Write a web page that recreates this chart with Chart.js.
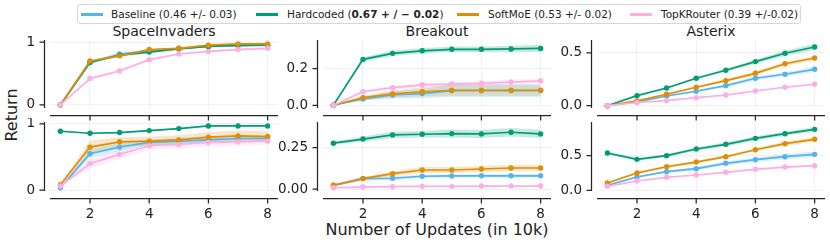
<!DOCTYPE html>
<html><head><meta charset="utf-8">
<script src="https://cdn.jsdelivr.net/npm/chart.js@4.4.1/dist/chart.umd.min.js"></script>
<style>
body{margin:0;background:#fff;font-family:"DejaVu Sans",sans-serif;color:#222;}
#wrap{position:relative;width:830px;height:244px;overflow:hidden;background:#fff;}
canvas{position:absolute;}
.t{position:absolute;white-space:nowrap;line-height:1;}
.c{transform:translate(-50%,-50%);}
#legend{position:absolute;left:77px;top:4px;width:722px;height:18px;border:1px solid #d6d6d6;border-radius:3px;}
.sw{position:absolute;height:3px;width:22px;top:8px;}
.lt{position:absolute;top:3px;font-size:10.5px;white-space:nowrap;line-height:12px;}
</style></head>
<body><div id="wrap">
<div id="legend">
  <div class="sw" style="left:3px;background:#56B4E9"></div><div class="lt" style="left:33px">Baseline (0.46 +/- 0.03)</div>
  <div class="sw" style="left:178px;background:#029E73"></div><div class="lt" style="left:209px">Hardcoded (<b>0.67 + / − 0.02</b>)</div>
  <div class="sw" style="left:379px;background:#DE8F05"></div><div class="lt" style="left:410px">SoftMoE (0.53 +/- 0.02)</div>
  <div class="sw" style="left:552px;background:#FBAFE4"></div><div class="lt" style="left:583px">TopKRouter (0.39 +/-0.02)</div>
</div>
<div class="t c" style="left:164px;top:31px;font-size:14px">SpaceInvaders</div>
<div class="t c" style="left:437px;top:31px;font-size:14px">Breakout</div>
<div class="t c" style="left:711px;top:31px;font-size:14px">Asterix</div>
<div class="t" style="left:12px;top:115px;font-size:16px;transform:translate(-50%,-50%) rotate(-90deg)">Return</div>
<div class="t c" style="left:437px;top:230px;font-size:16px">Number of Updates (in 10k)</div>
</div>
<script>
const xs = [1, 2, 3, 4, 5, 6, 7, 8];
const xTicks = [2, 4, 6, 8];
const seriesNames = ['Baseline', 'Hardcoded', 'SoftMoE', 'TopKRouter'];
const seriesColors = ['#56B4E9', '#029E73', '#DE8F05', '#FBAFE4'];

// SpaceInvaders, top row
const siTopBaseline   = [0, 0.67, 0.81, 0.86, 0.90, 0.93, 0.94, 0.95];
const siTopHardcoded  = [0, 0.68, 0.79, 0.84, 0.89, 0.93, 0.95, 0.95];
const siTopSoftMoE    = [0, 0.70, 0.78, 0.88, 0.90, 0.95, 0.97, 0.97];
const siTopTopK       = [0, 0.42, 0.54, 0.72, 0.81, 0.85, 0.88, 0.90];
const siTopBaselineSd  = [0, 0.03, 0.02, 0.02, 0.01, 0.01, 0.01, 0.01];
const siTopHardcodedSd = [0, 0.02, 0.02, 0.02, 0.01, 0.01, 0.01, 0.01];
const siTopSoftMoESd   = [0, 0.02, 0.02, 0.01, 0.01, 0.01, 0.01, 0.01];
const siTopTopKSd      = [0, 0.02, 0.03, 0.02, 0.02, 0.02, 0.02, 0.02];

// SpaceInvaders, bottom row
const siBotBaseline   = [0.035, 0.55, 0.65, 0.72, 0.74, 0.76, 0.78, 0.78];
const siBotHardcoded  = [0.89, 0.86, 0.87, 0.90, 0.93, 0.97, 0.97, 0.97];
const siBotSoftMoE    = [0.08, 0.65, 0.73, 0.74, 0.76, 0.80, 0.82, 0.81];
const siBotTopK       = [0.06, 0.40, 0.54, 0.67, 0.69, 0.72, 0.73, 0.74];
const siBotBaselineSd  = [0.01, 0.07, 0.06, 0.05, 0.05, 0.05, 0.05, 0.05];
const siBotHardcodedSd = [0.01, 0.01, 0.01, 0.01, 0.01, 0.01, 0.01, 0.01];
const siBotSoftMoESd   = [0.01, 0.10, 0.07, 0.07, 0.07, 0.08, 0.08, 0.08];
const siBotTopKSd      = [0.01, 0.07, 0.07, 0.06, 0.06, 0.06, 0.06, 0.06];

// Breakout, top row
const brTopBaseline   = [0, 0.034, 0.056, 0.064, 0.080, 0.080, 0.080, 0.080];
const brTopHardcoded  = [0, 0.251, 0.284, 0.298, 0.306, 0.306, 0.308, 0.311];
const brTopSoftMoE    = [0, 0.042, 0.062, 0.074, 0.082, 0.082, 0.082, 0.082];
const brTopTopK       = [0, 0.074, 0.096, 0.111, 0.116, 0.120, 0.127, 0.133];
const brTopBaselineSd  = [0, 0.010, 0.020, 0.025, 0.035, 0.035, 0.035, 0.035];
const brTopHardcodedSd = [0, 0.012, 0.015, 0.015, 0.015, 0.016, 0.018, 0.020];
const brTopSoftMoESd   = [0, 0.010, 0.020, 0.025, 0.030, 0.030, 0.030, 0.030];
const brTopTopKSd      = [0, 0.008, 0.010, 0.012, 0.012, 0.012, 0.012, 0.012];

// Breakout, bottom row
const brBotBaseline   = [0.020, 0.063, 0.065, 0.077, 0.079, 0.080, 0.080, 0.080];
const brBotHardcoded  = [0.277, 0.302, 0.327, 0.331, 0.335, 0.333, 0.343, 0.333];
const brBotSoftMoE    = [0.024, 0.063, 0.093, 0.115, 0.115, 0.121, 0.127, 0.127];
const brBotTopK       = [0.008, 0.012, 0.014, 0.016, 0.016, 0.018, 0.018, 0.018];
const brBotBaselineSd  = [0.005, 0.015, 0.012, 0.010, 0.010, 0.010, 0.010, 0.010];
const brBotHardcodedSd = [0.010, 0.015, 0.020, 0.020, 0.025, 0.025, 0.025, 0.025];
const brBotSoftMoESd   = [0.005, 0.010, 0.015, 0.018, 0.018, 0.020, 0.020, 0.020];
const brBotTopKSd      = [0.002, 0.002, 0.002, 0.002, 0.002, 0.002, 0.002, 0.002];

// Asterix, top row
const asTopBaseline   = [0, 0.035, 0.092, 0.137, 0.190, 0.260, 0.298, 0.345];
const asTopHardcoded  = [0, 0.095, 0.168, 0.260, 0.336, 0.418, 0.497, 0.557];
const asTopSoftMoE    = [0, 0.045, 0.108, 0.175, 0.237, 0.307, 0.398, 0.452];
const asTopTopK       = [0, 0.030, 0.048, 0.076, 0.101, 0.139, 0.175, 0.203];
const asTopBaselineSd  = [0, 0.005, 0.010, 0.010, 0.015, 0.020, 0.020, 0.025];
const asTopHardcodedSd = [0, 0.005, 0.010, 0.010, 0.015, 0.020, 0.025, 0.030];
const asTopSoftMoESd   = [0, 0.005, 0.010, 0.010, 0.015, 0.020, 0.020, 0.020];
const asTopTopKSd      = [0, 0.003, 0.005, 0.005, 0.005, 0.008, 0.008, 0.010];

// Asterix, bottom row
const asBotBaseline   = [0.072, 0.192, 0.269, 0.312, 0.390, 0.442, 0.485, 0.519];
const asBotHardcoded  = [0.538, 0.447, 0.500, 0.596, 0.664, 0.750, 0.817, 0.880];
const asBotSoftMoE    = [0.105, 0.250, 0.340, 0.408, 0.485, 0.586, 0.673, 0.736];
const asBotTopK       = [0.058, 0.134, 0.188, 0.221, 0.260, 0.303, 0.336, 0.355];
const asBotBaselineSd  = [0.010, 0.015, 0.020, 0.025, 0.030, 0.030, 0.040, 0.040];
const asBotHardcodedSd = [0.020, 0.020, 0.020, 0.025, 0.030, 0.030, 0.030, 0.035];
const asBotSoftMoESd   = [0.010, 0.020, 0.020, 0.020, 0.020, 0.020, 0.030, 0.030];
const asBotTopKSd      = [0.005, 0.010, 0.010, 0.010, 0.010, 0.010, 0.010, 0.010];

// y-axis ticks per panel
const siTopYTicks = [0, 1];        const siTopYLabels = ['0', '1'];
const siBotYTicks = [0, 1];        const siBotYLabels = ['0', '1'];
const brTopYTicks = [0, 0.2];      const brTopYLabels = ['0.0', '0.2'];
const brBotYTicks = [0, 0.25];     const brBotYLabels = ['0.00', '0.25'];
const asTopYTicks = [0, 0.5];      const asTopYLabels = ['0.0', '0.5'];
const asBotYTicks = [0, 0.5];      const asBotYLabels = ['0.0', '0.5'];

const FONT = 'DejaVu Sans';
const TXT = '#222';
const SPINE = '#262626';
const GRID = '#ececec';

function hexA(h, a) {
  const n = parseInt(h.slice(1), 16);
  return `rgba(${(n >> 16) & 255},${(n >> 8) & 255},${n & 255},${a})`;
}

const spinePlugin = {
  id: 'spines',
  afterDraw(chart) {
    const {ctx, chartArea: a, scales: {x, y}} = chart;
    ctx.save();
    ctx.strokeStyle = SPINE;
    ctx.lineWidth = 1.25;
    ctx.beginPath();
    const sx = Math.round(a.left - 6.5) + 0.5;
    ctx.moveTo(sx, a.top); ctx.lineTo(sx, a.bottom);
    y.ticks.forEach(t => { const py = y.getPixelForValue(t.value); ctx.moveTo(sx - 5, py); ctx.lineTo(sx, py); });
    const sy = Math.round(a.bottom + 7) + 0.5;
    ctx.moveTo(a.left, sy); ctx.lineTo(a.right, sy);
    x.ticks.forEach(t => { const px = x.getPixelForValue(t.value); ctx.moveTo(px, sy); ctx.lineTo(px, sy + 5); });
    ctx.stroke();
    ctx.restore();
  }
};

function zeroPad(s) { s.paddingTop = 0; s.paddingBottom = 0; s.paddingLeft = 0; s.paddingRight = 0; }

const YW = 50, PADT = 4, PADR = 3;
function panel(left, top, w, h, showX, yMin, yMax, yTicks, yLabels, means, sds) {
  const hx = showX ? 30 : 14;
  const cv = document.createElement('canvas');
  const cw = YW + w + PADR, ch = PADT + h + hx;
  cv.width = cw; cv.height = ch;
  cv.style.left = (left - YW) + 'px'; cv.style.top = (top - PADT) + 'px';
  cv.style.width = cw + 'px'; cv.style.height = ch + 'px';
  document.getElementById('wrap').appendChild(cv);
  const datasets = [];
  means.forEach((m, i) => {
    const c = seriesColors[i];
    datasets.push({ data: xs.map((x, k) => ({x, y: m[k] - sds[i][k]})), borderWidth: 0, pointRadius: 0, fill: false, order: 20, borderColor: 'rgba(0,0,0,0)' });
    datasets.push({ data: xs.map((x, k) => ({x, y: m[k] + sds[i][k]})), borderWidth: 0, pointRadius: 0, fill: '-1', backgroundColor: hexA(c, 0.22), order: 20, borderColor: 'rgba(0,0,0,0)' });
  });
  means.forEach((m, i) => {
    const c = seriesColors[i];
    datasets.push({ label: seriesNames[i], data: xs.map((x, k) => ({x, y: m[k]})), borderColor: c, backgroundColor: c, borderWidth: 1.7, pointRadius: 2.7, pointBorderWidth: 0, pointBackgroundColor: c, fill: false, tension: 0, order: 4 - i, clip: false });
  });
  new Chart(cv, {
    type: 'line',
    data: { datasets },
    plugins: [spinePlugin],
    options: {
      responsive: false, animation: false, devicePixelRatio: 1,
      layout: { padding: { top: PADT, right: PADR, left: 0, bottom: 0 }, autoPadding: false },
      plugins: { legend: { display: false }, tooltip: { enabled: false }, title: { display: false } },
      scales: {
        x: {
          type: 'linear', min: 0.65, max: 8.35,
          afterBuildTicks: s => { s.ticks = xTicks.map(v => ({value: v})); },
          afterFit: s => { s.height = hx; zeroPad(s); },
          grid: { color: GRID, lineWidth: 0.8, drawTicks: false },
          border: { display: false },
          ticks: { display: showX, padding: 15, color: TXT, font: { family: FONT, size: 13.5 }, callback: v => String(v), maxRotation: 0 }
        },
        y: {
          type: 'linear', min: yMin, max: yMax,
          afterBuildTicks: s => { s.ticks = yTicks.map(v => ({value: v})); },
          afterFit: s => { s.width = YW; zeroPad(s); },
          grid: { color: GRID, lineWidth: 0.8, drawTicks: false },
          border: { display: false },
          ticks: { padding: 15, color: TXT, font: { family: FONT, size: 13.5 }, callback: (v, i) => yLabels[i] }
        }
      }
    }
  });
}

const W = 228, TOPY = 40, TOPH = 68, BOTY = 122, BOTH = 69;
const colL = [50, 323, 597];
panel(colL[0], TOPY, W, TOPH, false, -0.048, 1.032, siTopYTicks, siTopYLabels,
  [siTopBaseline, siTopHardcoded, siTopSoftMoE, siTopTopK], [siTopBaselineSd, siTopHardcodedSd, siTopSoftMoESd, siTopTopKSd]);
panel(colL[1], TOPY, W, TOPH, false, -0.015, 0.357, brTopYTicks, brTopYLabels,
  [brTopBaseline, brTopHardcoded, brTopSoftMoE, brTopTopK], [brTopBaselineSd, brTopHardcodedSd, brTopSoftMoESd, brTopTopKSd]);
panel(colL[2], TOPY, W, TOPH, false, -0.022, 0.623, asTopYTicks, asTopYLabels,
  [asTopBaseline, asTopHardcoded, asTopSoftMoE, asTopTopK], [asTopBaselineSd, asTopHardcodedSd, asTopSoftMoESd, asTopTopKSd]);
panel(colL[0], BOTY, W, BOTH, true, -0.015, 1.03, siBotYTicks, siBotYLabels,
  [siBotBaseline, siBotHardcoded, siBotSoftMoE, siBotTopK], [siBotBaselineSd, siBotHardcodedSd, siBotSoftMoESd, siBotTopKSd]);
panel(colL[1], BOTY, W, BOTH, true, -0.012, 0.405, brBotYTicks, brBotYLabels,
  [brBotBaseline, brBotHardcoded, brBotSoftMoE, brBotTopK], [brBotBaselineSd, brBotHardcodedSd, brBotSoftMoESd, brBotTopKSd]);
panel(colL[2], BOTY, W, BOTH, true, -0.01, 0.986, asBotYTicks, asBotYLabels,
  [asBotBaseline, asBotHardcoded, asBotSoftMoE, asBotTopK], [asBotBaselineSd, asBotHardcodedSd, asBotSoftMoESd, asBotTopKSd]);
</script>
</body></html>
